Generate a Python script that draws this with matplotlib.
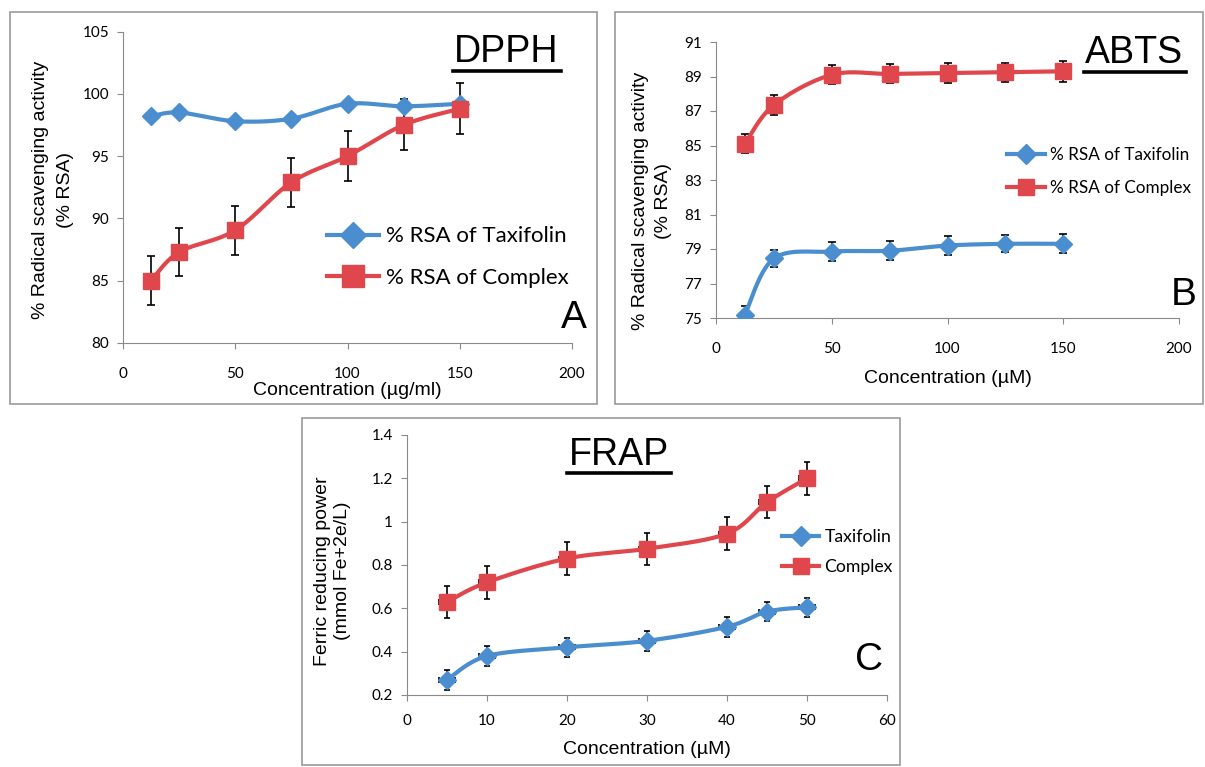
import matplotlib.pyplot as plt
import numpy as np
from matplotlib.patches import Rectangle
from matplotlib.lines import Line2D

# DPPH (A)
conc_a = [12.5, 25, 50, 75, 100, 125, 150]
dpph_taxi = [98.2, 98.5, 97.8, 98.0, 99.2, 99.0, 99.2]
dpph_taxi_err = [0.2, 0.2, 0.2, 0.2, 0.2, 0.3, 0.2]
dpph_comp = [85.0, 87.3, 89.05, 92.9, 95.0, 97.5, 98.8]
dpph_comp_err = [1.95, 1.95, 1.95, 1.95, 2.0, 2.05, 2.05]

# ABTS (B)
conc_b = [12.5, 25, 50, 75, 100, 125, 150]
abts_taxi = [75.2, 78.45, 78.85, 78.9, 79.2, 79.3, 79.3]
abts_taxi_err = [0.5, 0.5, 0.55, 0.55, 0.55, 0.5, 0.55]
abts_comp = [85.1, 87.35, 89.1, 89.15, 89.2, 89.25, 89.3]
abts_comp_err = [0.55, 0.6, 0.55, 0.55, 0.6, 0.55, 0.6]

# FRAP (C)
conc_c = [5, 10, 20, 30, 40, 45, 50]
conc_c_err = [1, 1, 1, 1, 1, 1, 1]
frap_taxi = [0.27, 0.38, 0.42, 0.45, 0.515, 0.585, 0.605]
frap_taxi_err = [0.045, 0.045, 0.045, 0.045, 0.045, 0.045, 0.045]
frap_comp = [0.63, 0.72, 0.83, 0.875, 0.945, 1.09, 1.20]
frap_comp_err = [0.075, 0.075, 0.075, 0.075, 0.075, 0.075, 0.075]

BLUE = '#4A8ED0'
RED = '#E0474C'
W, H = 1205, 767


def smooth(x, y, n=30):
    # excel-like bezier smoothing between the points
    x = np.asarray(x, float)
    y = np.asarray(y, float)
    px = np.concatenate([[x[0]], x, [x[-1]]])
    py = np.concatenate([[y[0]], y, [y[-1]]])
    xs, ys = [], []
    t = np.linspace(0, 1, n)
    for i in range(1, len(px) - 2):
        p0 = np.array([px[i], py[i]])
        p3 = np.array([px[i + 1], py[i + 1]])
        p1 = p0 + (np.array([px[i + 1], py[i + 1]]) - np.array([px[i - 1], py[i - 1]])) / 6
        p2 = p3 - (np.array([px[i + 2], py[i + 2]]) - np.array([px[i], py[i]])) / 6
        b = ((1 - t) ** 3)[:, None] * p0 + (3 * (1 - t) ** 2 * t)[:, None] * p1 \
            + (3 * (1 - t) * t ** 2)[:, None] * p2 + (t ** 3)[:, None] * p3
        xs.extend(b[:, 0])
        ys.extend(b[:, 1])
    return xs, ys


def fx(px):
    return px / W


def fy(py):
    return 1 - py / H


def box(l, t, r, b):
    fig.add_artist(Rectangle((fx(l), fy(b)), (r - l) / W, (b - t) / H,
                             fill=False, edgecolor='#9a9a9a', lw=1.2))


def ax_at(l, t, r, b):
    return fig.add_axes([fx(l), fy(b), (r - l) / W, (b - t) / H])


def style(ax, xpad):
    for s in ['top', 'right']:
        ax.spines[s].set_visible(False)
    for s in ['left', 'bottom']:
        ax.spines[s].set_color('#8a8a8a')
    ax.tick_params(color='#8a8a8a', length=4, labelsize=11, direction='out')
    ax.tick_params(axis='y', pad=6)
    ax.tick_params(axis='x', pad=xpad)
    for lab in ax.get_xticklabels() + ax.get_yticklabels():
        lab.set_fontfamily('Lato')


def series(ax, x, y, yerr, color, marker, ms, xerr=None, cap=3):
    sx, sy = smooth(x, y)
    ax.errorbar(x, y, yerr=yerr, xerr=xerr, fmt='none', ecolor='black',
                elinewidth=1.2, capsize=cap, capthick=1.2, zorder=2)
    ax.plot(sx, sy, color=color, lw=3, zorder=3)
    ax.plot(x, y, ls='none', marker=marker, ms=ms, color=color, zorder=4)


def legend(ax, labels, x, y, size, hl, sp, msd, mss):
    h = [Line2D([], [], color=BLUE, lw=3, marker='D', ms=msd),
         Line2D([], [], color=RED, lw=3, marker='s', ms=mss)]
    ax.legend(h, labels, loc='center left', bbox_to_anchor=(fx(x), fy(y)),
              bbox_transform=fig.transFigure, frameon=False, borderpad=0,
              borderaxespad=0, prop={'family': 'Lato', 'size': size},
              handlelength=hl, handletextpad=0.3, labelspacing=sp)


def title(txt, xc, base, x0, x1, yl):
    fig.text(fx(xc), fy(base), txt, fontsize=27, family='Liberation Sans',
             ha='center', va='baseline')
    fig.add_artist(Line2D([fx(x0), fx(x1)], [fy(yl), fy(yl)], color='black', lw=2.6))


def ylab(txt, xc, yc, ls):
    fig.text(fx(xc), fy(yc), txt, rotation=90, fontsize=14, family='Liberation Sans',
             ha='center', va='center', multialignment='center', linespacing=ls)


def letter(txt, xr, base):
    fig.text(fx(xr), fy(base), txt, fontsize=28, family='Liberation Sans',
             ha='right', va='baseline')


fig = plt.figure(figsize=(12.05, 7.67), dpi=100)

# ---- A
box(10, 12, 597, 404)
ax = ax_at(123, 31.5, 572, 343)
series(ax, conc_a, dpph_taxi, dpph_taxi_err, BLUE, 'D', 9)
series(ax, conc_a, dpph_comp, dpph_comp_err, RED, 's', 12)
ax.set_xlim(0, 200)
ax.set_ylim(80, 105)
ax.set_xticks(range(0, 201, 50))
ax.set_yticks(range(80, 106, 5))
style(ax, 13)
ax.set_xlabel('Concentration (µg/ml)', fontsize=14, family='Liberation Sans', labelpad=1)
ylab('% Radical scavenging activity\n(% RSA)', 53, 190, 1.65)
legend(ax, ['% RSA of Taxifolin', '% RSA of Complex'], 327, 257, 16, 2.35, 0.95, 13, 16)
title('DPPH', 506, 62, 453, 561, 71)
letter('A', 587, 328)

# ---- B
box(615, 12, 1203, 404)
ax = ax_at(716, 42, 1179, 318)
series(ax, conc_b, abts_taxi, abts_taxi_err, BLUE, 'D', 9)
series(ax, conc_b, abts_comp, abts_comp_err, RED, 's', 12)
ax.set_xlim(0, 200)
ax.set_ylim(75, 91)
ax.set_xticks(range(0, 201, 50))
ax.set_yticks(range(75, 92, 2))
style(ax, 13)
ax.set_xlabel('Concentration (µM)', fontsize=14, family='Liberation Sans', labelpad=10)
ylab('% Radical scavenging activity\n(% RSA)', 652, 201, 1.45)
legend(ax, ['% RSA of Taxifolin', '% RSA of Complex'], 1007, 171.5, 12.3, 2.2, 1.0, 10, 12)
title('ABTS', 1134, 63, 1084, 1186, 72)
letter('B', 1197, 305)

# ---- C
box(302, 418, 900, 765)
ax = ax_at(407, 435, 887, 695)
series(ax, conc_c, frap_taxi, frap_taxi_err, BLUE, 'D', 9, xerr=conc_c_err, cap=2.5)
series(ax, conc_c, frap_comp, frap_comp_err, RED, 's', 12, xerr=conc_c_err, cap=2.5)
ax.set_xlim(0, 60)
ax.set_ylim(0.2, 1.4)
ax.set_xticks(range(0, 61, 10))
ax.set_yticks([0.2, 0.4, 0.6, 0.8, 1.0, 1.2, 1.4])
ax.set_yticklabels(['0.2', '0.4', '0.6', '0.8', '1', '1.2', '1.4'])
style(ax, 10)
ax.set_xlabel('Concentration (µM)', fontsize=14, family='Liberation Sans', labelpad=9)
ylab('Ferric reducing power\n(mmol Fe+2e/L)', 332.5, 571, 1.3)
legend(ax, ['Taxifolin', 'Complex'], 782, 552, 12.7, 2.1, 0.8, 10, 12)
title('FRAP', 618.5, 465, 567, 671, 473)
letter('C', 883, 670)

fig.savefig('out.png', dpi=100)
